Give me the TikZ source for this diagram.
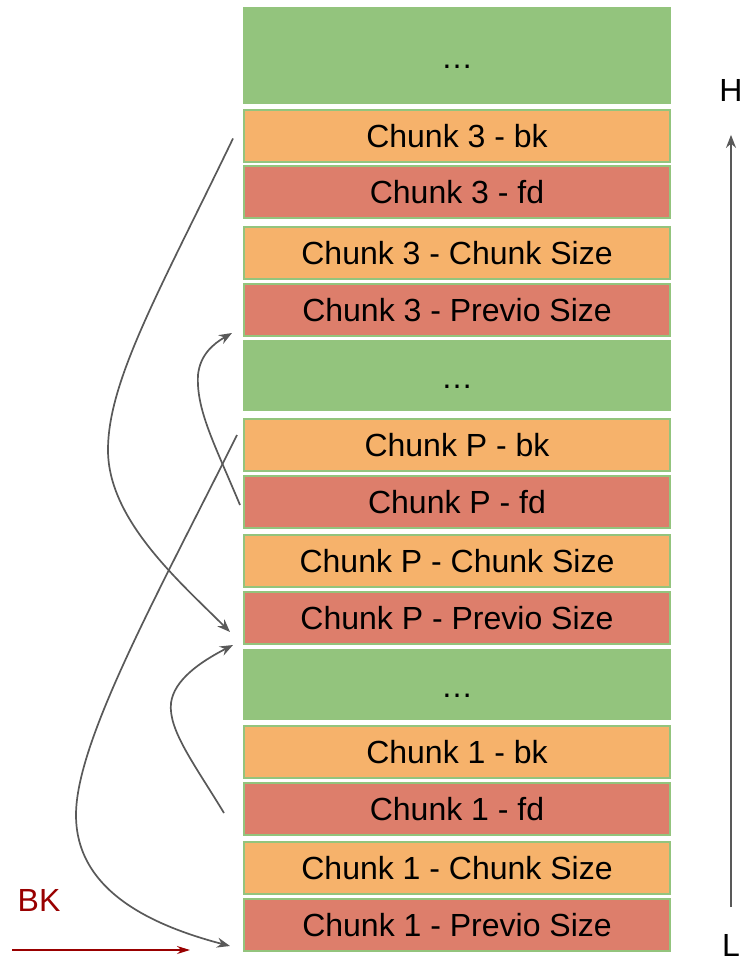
\documentclass[tikz,border=0pt]{standalone}
\usepackage{fontspec}
\setmainfont{Liberation Sans}
\usetikzlibrary{arrows.meta, positioning}
\definecolor{myboxgreen1}{RGB}{147, 196, 125}
\definecolor{myboxorange1}{RGB}{246, 178, 107}
\definecolor{myboxred1}{RGB}{221, 126, 107}
\definecolor{mygrey1}{RGB}{89, 89, 89}
\definecolor{mydarkred1}{RGB}{153, 0, 0}

\begin{document}
\begin{tikzpicture}[x=0.5pt, y=-0.5pt, font=\fontsize{16}{19}\selectfont,
  slot/.style={draw=myboxgreen1, line width=0.75pt, minimum width=213pt, minimum height=26pt, inner sep=0, outer sep=0, text centered},
  freeslot/.style={slot, fill=myboxgreen1, minimum height=34.5pt, text height=13pt, text depth=0pt},
  orangeslot/.style={slot, fill=myboxorange1},
  redslot/.style={slot, fill=myboxred1},
  pointer/.style={-{Stealth[length=6.5pt, width=5pt]}, line width=0.85pt, draw=mygrey1}]
\useasboundingbox (0,0) rectangle (744,962);

% --- Chunk 3 ---
\node at (457,55.5) [freeslot, minimum height=47.5pt] (upper) {…};
\node [orangeslot, below=3.5pt of upper] (c3bk) {Chunk 3 - bk};
\node [redslot, below=2pt of c3bk] (c3fd) {Chunk 3 - fd};
\node [orangeslot, below=4.5pt of c3fd] (c3size) {Chunk 3 - Chunk Size};
\node [redslot, below=2.5pt of c3size] (c3prev) {Chunk 3 - Previo Size};

% --- Chunk P ---
\node [freeslot, below=2.5pt of c3prev] (gapA) {…};
\node [orangeslot, below=4.5pt of gapA] (cPbk) {Chunk P - bk};
\node [redslot, below=2.5pt of cPbk] (cPfd) {Chunk P - fd};
\node [orangeslot, below=3.5pt of cPfd] (cPsize) {Chunk P - Chunk Size};
\node [redslot, below=2.5pt of cPsize] (cPprev) {Chunk P - Previo Size};

% --- Chunk 1 ---
\node [freeslot, below=3pt of cPprev] (gapB) {…};
\node [orangeslot, below=3.5pt of gapB] (c1bk) {Chunk 1 - bk};
\node [redslot, below=2.5pt of c1bk] (c1fd) {Chunk 1 - fd};
\node [orangeslot, below=3.5pt of c1fd] (c1size) {Chunk 1 - Chunk Size};
\node [redslot, below=2.5pt of c1size] (c1prev) {Chunk 1 - Previo Size};

% --- Address axis ---
\node at (731,90) [inner sep=0] (high) {H};
\node at (731,945) [inner sep=0] (low) {L};
\draw[pointer] ([yshift=13.25pt]low.north) -- ([yshift=-16.75pt]high.south);

% --- BK pointer ---
\node at (39,900) [inner sep=0, text=mydarkred1] (bklabel) {BK};
\coordinate (bkstart) at (12,950);
\coordinate (bkend) at (190,950);
\draw[-{Stealth[length=6.5pt, width=4pt]}, line width=0.7pt, draw=mydarkred1] (bkstart) -- (bkend);

% --- bk / fd links ---
\draw[pointer] ([shift={(-11,2.5)}]c3bk.west) .. controls (160,290) and (108,380) .. (108,450) .. controls (108,520) and (180,582) .. ([shift={(-14,14)}]cPprev.west);
\draw[pointer] ([shift={(-4,3)}]cPfd.west) .. controls (215,445) and (196,410) .. (198,375) .. controls (200,355) and (213,344) .. ([shift={(-12,23)}]c3prev.west);
\draw[pointer] ([shift={(-7,-10)}]cPbk.west) .. controls (160,590) and (76,740) .. (76,815) .. controls (76,890) and (150,925) .. ([shift={(-14,21)}]c1prev.west);
\draw[pointer] ([shift={(-20,4)}]c1fd.west) .. controls (195,765) and (168,730) .. (171,703) .. controls (174,680) and (200,662) .. ([shift={(-11,27)}]cPprev.west);
\end{tikzpicture}
\end{document}
